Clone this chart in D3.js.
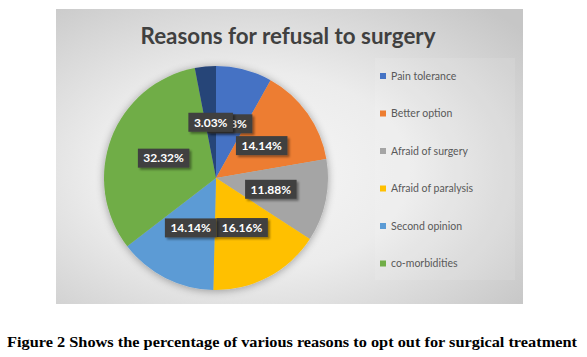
<!DOCTYPE html>
<html><head><meta charset="utf-8">
<script src="https://cdn.jsdelivr.net/npm/d3@7/dist/d3.min.js"></script>
<style>body{margin:0;background:#fff;}svg{display:block;}</style>
</head><body>
<script>
const categories = ["Pain tolerance","Better option","Afraid of surgery","Afraid of paralysis","Second opinion","co-morbidities","Others"];
const values = [8.08, 14.14, 11.88, 16.16, 14.14, 32.32, 3.03];
const labels = ["8.08%","14.14%","11.88%","16.16%","14.14%","32.32%","3.03%"];
const colors = ["#4472C4","#ED7D31","#A5A5A5","#FFC000","#5B9BD5","#70AD47","#264478"];
const legendCategories = categories.slice(0, 6);
const titleText = "Reasons for refusal to surgery";
const captionText = "Figure 2 Shows the percentage of various reasons to opt out for surgical treatment";

const W = 587, H = 357;
const svg = d3.select("body").append("svg").attr("width", W).attr("height", H);
const defs = svg.append("defs");
const rg = defs.append("radialGradient").attr("id","bg").attr("cx","0.42").attr("cy","0.55").attr("r","0.75");
rg.append("stop").attr("offset","0").attr("stop-color","#f7f7f7");
rg.append("stop").attr("offset","0.45").attr("stop-color","#ececec");
rg.append("stop").attr("offset","1").attr("stop-color","#c6c6c6");
const f = defs.append("filter").attr("id","glow").attr("x","-20%").attr("y","-20%").attr("width","140%").attr("height","140%");
f.append("feGaussianBlur").attr("in","SourceAlpha").attr("stdDeviation",4).attr("result","b");
f.append("feOffset").attr("in","b").attr("dx",0).attr("dy",1).attr("result","o");
f.append("feComponentTransfer").attr("in","o").attr("result","o2").append("feFuncA").attr("type","linear").attr("slope",0.35);
const fm = f.append("feMerge"); fm.append("feMergeNode").attr("in","o2"); fm.append("feMergeNode").attr("in","SourceGraphic");
const sh = defs.append("filter").attr("id","lblsh").attr("x","-20%").attr("y","-30%").attr("width","150%").attr("height","170%");
sh.append("feDropShadow").attr("dx",2).attr("dy",2).attr("stdDeviation",1.2).attr("flood-color","#000").attr("flood-opacity",0.4);

// chart area
const box = {x:56, y:9, w:467, h:295};
svg.append("rect").attr("x",box.x).attr("y",box.y).attr("width",box.w).attr("height",box.h).attr("fill","url(#bg)");
// legend panel (slightly lighter)
svg.append("rect").attr("x",375).attr("y",58).attr("width",140).attr("height",222).attr("fill","#ffffff").attr("opacity",0.1);

// title
const title = svg.append("text").attr("x", 288).attr("y", 44).attr("text-anchor","middle")
  .attr("font-family","Lato, 'Open Sans', sans-serif").attr("font-weight","bold").attr("font-size",23)
  .attr("fill","#404040").text(titleText);
title.attr("textLength", 295).attr("lengthAdjust","spacingAndGlyphs");

// pie
const cx = 216, cy = 178, r = 112;
const pie = d3.pie().sort(null).value(d => d.v);
const data = categories.map((c,i) => ({c, v: values[i], l: labels[i], col: colors[i]}));
const arcs = pie(data);
const arc = d3.arc().innerRadius(0).outerRadius(r);
const g = svg.append("g").attr("transform", `translate(${cx},${cy})`);
const pg = g.append("g").attr("filter","url(#glow)");
pg.selectAll("path").data(arcs).join("path").attr("d", arc).attr("fill", d => d.data.col);

const labelArc = d3.arc().innerRadius(r*0.5).outerRadius(r*0.5);
const lg = g.append("g");
arcs.forEach(a => {
  const [x,y] = labelArc.centroid(a);
  const gg = lg.append("g").attr("transform", `translate(${x},${y})`);
  const rect = gg.append("rect").attr("fill","#404040").attr("filter","url(#lblsh)");
  const t = gg.append("text").attr("text-anchor","middle").attr("dy","0.36em")
    .attr("font-family","Lato, 'Open Sans', sans-serif").attr("font-weight","bold").attr("font-size",12)
    .attr("fill","#ffffff").text(a.data.l);
  const bw = t.node().getComputedTextLength() + 11, bh = 19;
  rect.attr("x", -bw/2).attr("y", -bh/2).attr("width", bw).attr("height", bh);
});

// legend
const leg = svg.append("g");
legendCategories.forEach((c,i) => {
  const y = 76 + i*37.5;
  leg.append("rect").attr("x",380).attr("y",y-3).attr("width",6).attr("height",6).attr("fill",colors[i]);
  leg.append("text").attr("x",391).attr("y",y).attr("dy","0.35em")
    .attr("font-family","Lato, 'Open Sans', sans-serif").attr("font-size",10.5).attr("fill","#595959").text(c);
});

// caption
svg.append("text").attr("x",7).attr("y",347)
  .attr("font-family","'Liberation Serif', 'Times New Roman', serif").attr("font-weight","bold").attr("font-size",15)
  .attr("fill","#000").attr("textLength",570).attr("lengthAdjust","spacingAndGlyphs").text(captionText);
</script>
</body></html>
